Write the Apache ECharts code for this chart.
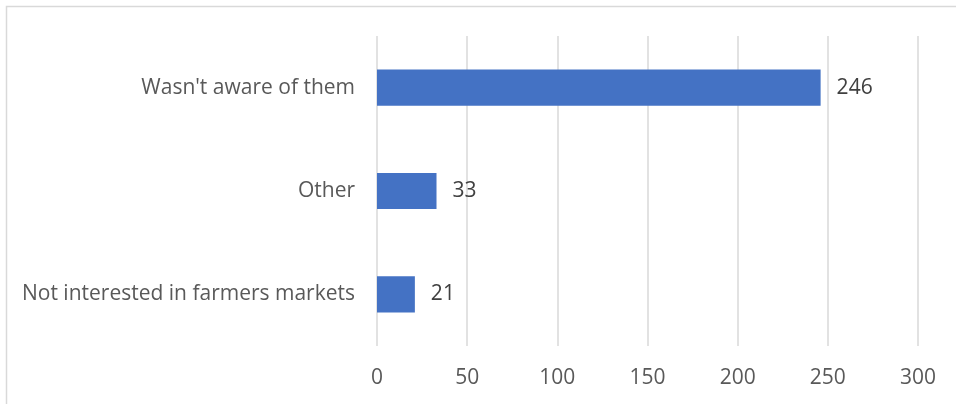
<!DOCTYPE html>
<html>
<head>
<meta charset="utf-8">
<script src="https://cdn.jsdelivr.net/npm/echarts@6/dist/echarts.min.js"></script>
<style>
  html, body { margin: 0; padding: 0; background: #fff; }
  #chart { width: 956px; height: 404px; }
</style>
</head>
<body>
<div id="chart"></div>
<script>
// categories bottom to top, as the horizontal bar chart shows them
const categories = ['Not interested in farmers markets', 'Other', "Wasn't aware of them"];
const counts = [21, 33, 246];
const xTicks = { min: 0, max: 300, step: 50 };

const FONT = '"Open Sans", "Noto Sans", sans-serif';

const chart = echarts.init(document.getElementById('chart'), null, { renderer: 'canvas' });

chart.setOption({
    animation: false,
    backgroundColor: '#fff',
    graphic: [
        {
            type: 'rect',
            shape: { x: 6.5, y: 6.5, width: 960, height: 420 },
            style: { fill: 'none', stroke: '#d9d9d9', lineWidth: 1.5 },
            silent: true
        }
    ],
    grid: { left: 377, right: 38, top: 36, bottom: 58 },
    xAxis: {
        type: 'value',
        min: xTicks.min,
        max: xTicks.max,
        interval: xTicks.step,
        axisLine: { show: false },
        axisTick: { show: false },
        splitLine: { lineStyle: { color: '#d9d9d9', width: 1.5 } },
        axisLabel: { color: '#595959', fontSize: 21, fontFamily: FONT, margin: 22 }
    },
    yAxis: {
        type: 'category',
        data: categories,
        axisLine: { show: false },
        axisTick: { show: false },
        axisLabel: { color: '#595959', fontSize: 21, fontFamily: FONT, margin: 22 }
    },
    series: [
        {
            type: 'bar',
            data: counts,
            barWidth: '35%',
            itemStyle: { color: '#4472C4' },
            label: {
                show: true,
                position: 'right',
                distance: 16,
                color: '#404040',
                fontSize: 21,
                fontFamily: FONT
            }
        }
    ]
});
</script>
</body>
</html>
